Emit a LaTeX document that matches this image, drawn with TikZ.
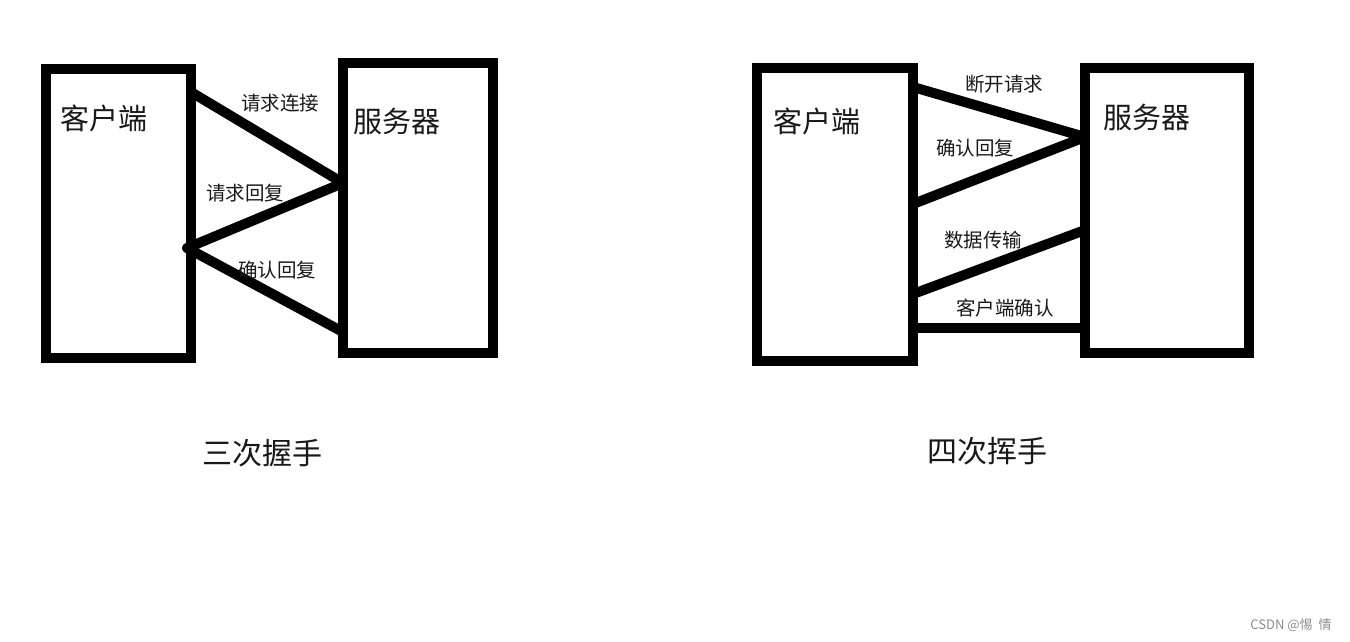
\documentclass[tikz,border=0pt]{standalone}
\usepackage{fontspec}
\setmainfont{Noto Sans CJK SC}
\begin{document}
\begin{tikzpicture}[x=1pt,y=-1pt,
  box/.style={draw=black,line width=10pt,rectangle,inner sep=0pt,fill=white},
  link/.style={line width=10pt,line join=round},
  big/.style={font=\fontsize{29}{30}\selectfont,text=black!90},
  lbl/.style={font=\fontsize{19.5}{21}\selectfont,text=black!90},
  title/.style={font=\fontsize{30}{32}\selectfont,text=black!90}]
\useasboundingbox (0,0) rectangle (1350,641);
% three-way handshake
\node[box,minimum width=145pt,minimum height=289pt] (c1) at (118.5,213.5) {};
\node[box,minimum width=150pt,minimum height=290pt] (s1) at (418,208) {};
\coordinate (c1a) at (191,92);
\coordinate (s1a) at (343,183);
\coordinate (c1b) at (187,248);
\coordinate (s1b) at (343,332);
\draw[link] (c1a) -- (s1a) -- (c1b) -- (s1b);
\node[big] (c1t) at (104,118) {客户端};
\node[big] (s1t) at (397,121) {服务器};
\node[lbl] (l1) at (280,103) {请求连接};
\node[lbl] (l2) at (245,193) {请求回复};
\node[lbl] (l3) at (277,270) {确认回复};
\node[title] (t1) at (262,453) {三次握手};
% four-way wave
\node[box,minimum width=156pt,minimum height=293pt] (c2) at (835,214.5) {};
\node[box,minimum width=164pt,minimum height=285pt] (s2) at (1167,210.5) {};
\coordinate (c2a) at (913,87);
\coordinate (s2a) at (1085,137);
\coordinate (c2b) at (913,204);
\coordinate (s2b) at (1085,230);
\coordinate (c2c) at (913,294);
\coordinate (c2d) at (913,328);
\coordinate (s2d) at (1085,328);
\draw[link] (c2a) -- (s2a) -- (c2b);
\draw[link] (s2b) -- (c2c);
\draw[link] (c2d) -- (s2d);
\node[big] (c2t) at (817,121) {客户端};
\node[big] (s2t) at (1147,117) {服务器};
\node[lbl] (m1) at (1004,84) {断开请求};
\node[lbl] (m2) at (975,148) {确认回复};
\node[lbl] (m3) at (983,240) {数据传输};
\node[lbl] (m4) at (1005,308) {客户端确认};
\node[title] (t2) at (987,451) {四次挥手};
\node[font=\fontsize{13}{14}\selectfont,text=black!45] (wm) at (1291,625) {CSDN @惕\ \ 情};
\end{tikzpicture}
\end{document}
